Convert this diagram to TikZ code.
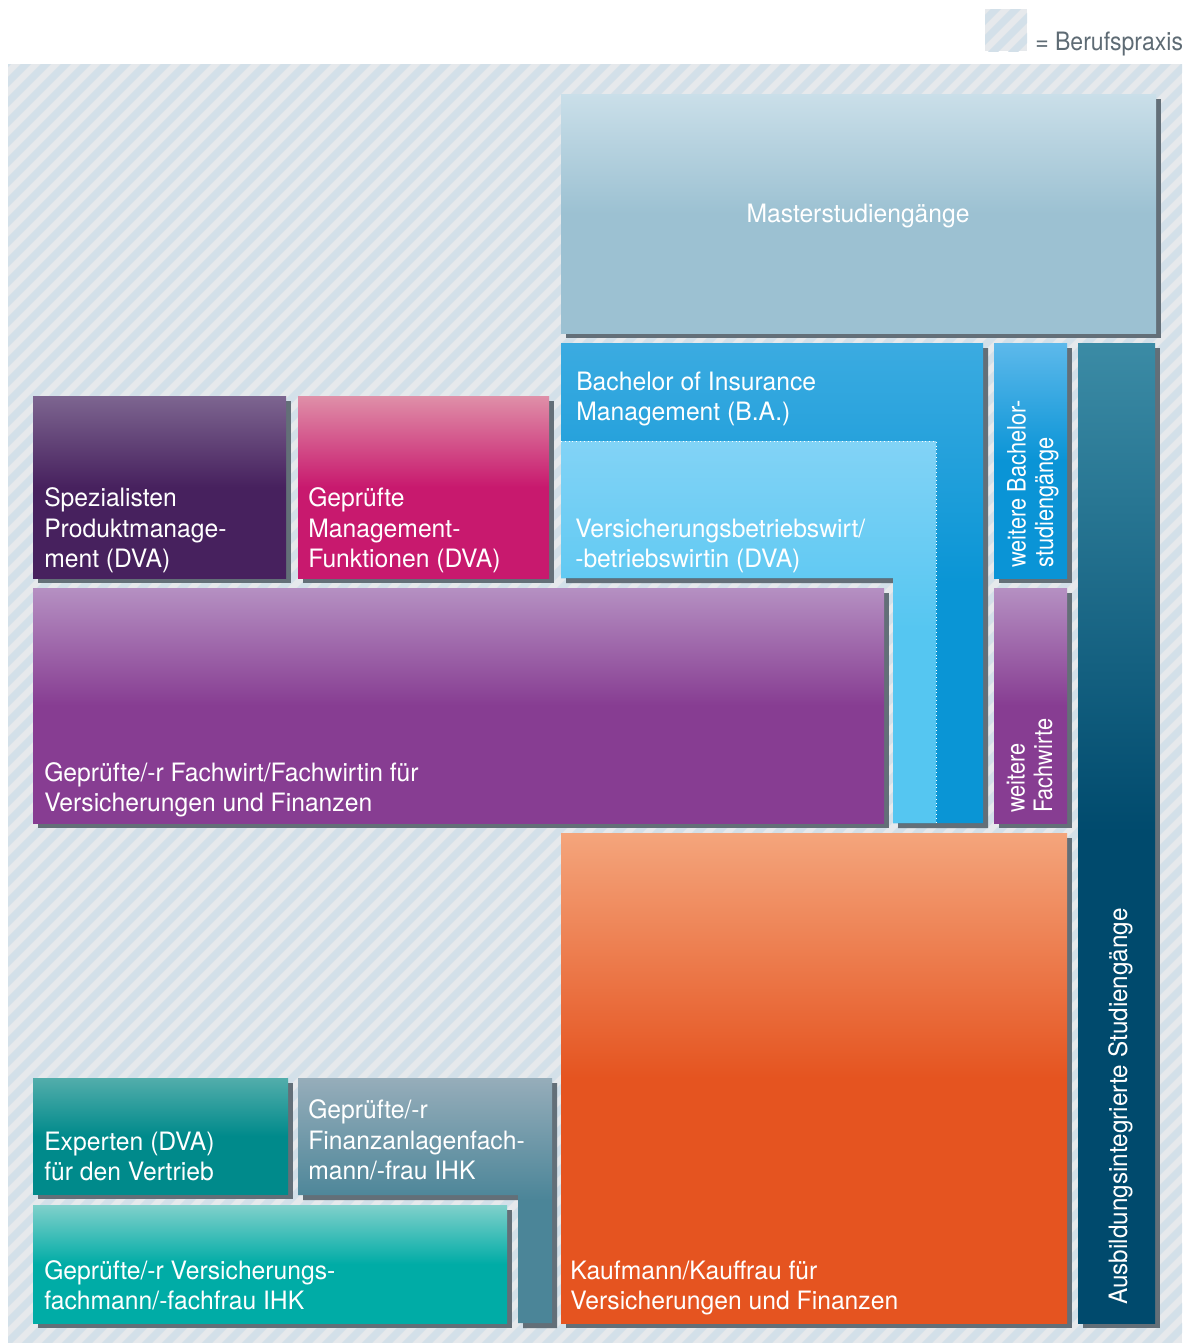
\documentclass[tikz,border=0pt]{standalone}
\usepackage{fontspec}
\setmainfont{TeX Gyre Heros}[FakeStretch=0.975]
\newfontfamily\narrowfont{TeX Gyre Heros}[FakeStretch=0.86]
\newfontfamily\ausbfont{TeX Gyre Heros}[FakeStretch=0.96]
\newfontfamily\legendfont{TeX Gyre Heros}[FakeStretch=0.91]
\usetikzlibrary{calc}

\definecolor{shadowgray}{HTML}{636F78}
\definecolor{hatchblue}{HTML}{D3E0E9}
\definecolor{hatchgray}{HTML}{E6E9EC}
\definecolor{legendgray}{HTML}{5E6B74}
% box colours, top / bottom
\definecolor{masterA}{HTML}{CADFE9}   \definecolor{masterB}{HTML}{9CC1D2}
\definecolor{bachA}{HTML}{3BABE1}     \definecolor{bachB}{HTML}{0A95D5}
\definecolor{vbwA}{HTML}{82D3F6}      \definecolor{vbwB}{HTML}{55C6F1}
\definecolor{wbachA}{HTML}{5DB9EB}    \definecolor{wbachB}{HTML}{0A94D6}
\definecolor{fwA}{HTML}{B590C2}       \definecolor{fwB}{HTML}{873D92}
\definecolor{ausbA}{HTML}{3B8BA5}     \definecolor{ausbB}{HTML}{004A6D}
\definecolor{spezA}{HTML}{7D6590}     \definecolor{spezB}{HTML}{47215E}
\definecolor{mgmtA}{HTML}{DF8FA8}     \definecolor{mgmtB}{HTML}{C8196E}
\definecolor{kaufA}{HTML}{F4A57C}     \definecolor{kaufB}{HTML}{E55420}
\definecolor{expA}{HTML}{52ADAB}      \definecolor{expB}{HTML}{008A8B}
\definecolor{finA}{HTML}{96ADBA}      \definecolor{finB}{HTML}{4B8598}
\definecolor{vfachA}{HTML}{80D0CB}    \definecolor{vfachB}{HTML}{00ACA6}

\newcommand\boxfont{\fontsize{18}{21.34}\selectfont}
\newcommand\sidefont{\narrowfont\fontsize{18}{19.56}\selectfont}

\tikzset{
  shadowbox/.style={fill=shadowgray},
  fade/.style={top color=#1A, bottom color=#1B, middle color=#1B},
  boxtext/.style={text=white, anchor=base west, align=left, inner sep=0pt, font=\boxfont},
  sidetext/.style={boxtext, rotate=90, font=\sidefont},
  hatchline/.style={hatchblue, line width=5.2pt},
}

\begin{document}
\begin{tikzpicture}[x=0.025cm, y=-0.025cm]
  \useasboundingbox (0,0) rectangle (1192,1343);

  %%%%% Berufspraxis hatching %%%%%
  \begin{scope}
    \clip (8,64) rectangle (1182,1343);
    \fill[hatchgray] (8,64) rectangle (1182,1343);
    \foreach \s in {-1300,-1280,...,1200}
      \draw[hatchline] (\s,1350) -- ++(1300,-1300);
  \end{scope}
  \begin{scope}
    \clip (985,9) rectangle (1027,51);
    \fill[hatchgray] (985,9) rectangle (1027,51);
    \foreach \s in {925,945,...,1045}
      \draw[hatchline] (\s,60) -- ++(60,-60);
  \end{scope}
  \node[anchor=base west, inner sep=0pt, text=legendgray, font=\legendfont\fontsize{18}{21}\selectfont] (legend) at (1035,50) {= Berufspraxis};

  %%%%% shadows %%%%%
  \foreach \xa/\ya/\xb/\yb in {561/94/1156/333, 994/343/1067/578, 994/588/1067/823,
      1078/343/1155/1323, 33/396/286/578, 298/396/549/578, 33/588/884/823,
      561/833/1067/1323, 33/1078/288/1194, 33/1205/507/1323}
    \fill[shadowbox] (\xa+5,\ya+5) rectangle (\xb+5,\yb+5);
  \fill[shadowbox, shift={(5,5)}] (561,343) -- (983,343) -- (983,823) -- (893,823) -- (893,578) -- (561,578) -- cycle;
  \fill[shadowbox, shift={(5,5)}] (298,1078) -- (552,1078) -- (552,1323) -- (518,1323) -- (518,1195) -- (298,1195) -- cycle;

  %%%%% boxes %%%%%
  \shade[fade=master] (561,94) rectangle (1156,333);
  \shade[fade=bach] (561,343) -- (983,343) -- (983,823) -- (893,823) -- (893,578) -- (561,578) -- cycle;
  \shade[fade=vbw] (561,441) -- (936,441) -- (936,823) -- (893,823) -- (893,578) -- (561,578) -- cycle;
  \draw[white, line width=0.7pt, dotted] (561,441) -- (936,441) -- (936,823);
  \shade[fade=wbach] (994,343) rectangle (1067,578);
  \shade[fade=fw] (994,588) rectangle (1067,823);
  \shade[fade=ausb] (1078,343) rectangle (1155,1323);
  \shade[fade=spez] (33,396) rectangle (286,578);
  \shade[fade=mgmt] (298,396) rectangle (549,578);
  \shade[fade=fw] (33,588) rectangle (884,823);
  \shade[fade=kauf] (561,833) rectangle (1067,1323);
  \shade[fade=exp] (33,1078) rectangle (288,1194);
  \shade[fade=fin] (298,1078) -- (552,1078) -- (552,1323) -- (518,1323) -- (518,1195) -- (298,1195) -- cycle;
  \shade[fade=vfach] (33,1205) rectangle (507,1323);

  %%%%% labels %%%%%
  \node[boxtext, anchor=base] (master) at (858,222) {Masterstudiengänge};
  \node[boxtext] (bachelor) at (576,420) {Bachelor of Insurance\\Management (B.A.)};
  \node[boxtext] (vbw) at (575,567) {Versicherungsbetriebswirt/\\-betriebswirtin (DVA)};
  \node[sidetext] (weiterebach) at (1053,568) {weitere Bachelor-\\studiengänge};
  \node[sidetext] (weiterefw) at (1052,813) {weitere\\Fachwirte};
  \node[sidetext, font=\ausbfont\fontsize{18}{21}\selectfont] (ausbint) at (1127,1305) {Ausbildungsintegrierte Studiengänge};
  \node[boxtext] (spezial) at (44,567) {Spezialisten\\Produktmanage-\\ment (DVA)};
  \node[boxtext] (mgmt) at (308,567) {Geprüfte\\Management-\\Funktionen (DVA)};
  \node[boxtext] (fachwirt) at (44,811) {Geprüfte/-r Fachwirt/Fachwirtin für\\Versicherungen und Finanzen};
  \node[boxtext] (kaufmann) at (570,1309) {Kaufmann/Kauffrau für\\Versicherungen und Finanzen};
  \node[boxtext] (experten) at (44,1180) {Experten (DVA)\\für den Vertrieb};
  \node[boxtext] (finanz) at (308,1179) {Geprüfte/-r\\Finanzanlagenfach-\\mann/-frau IHK};
  \node[boxtext] (vfach) at (44,1309) {Geprüfte/-r Versicherungs-\\fachmann/-fachfrau IHK};
\end{tikzpicture}
\end{document}
